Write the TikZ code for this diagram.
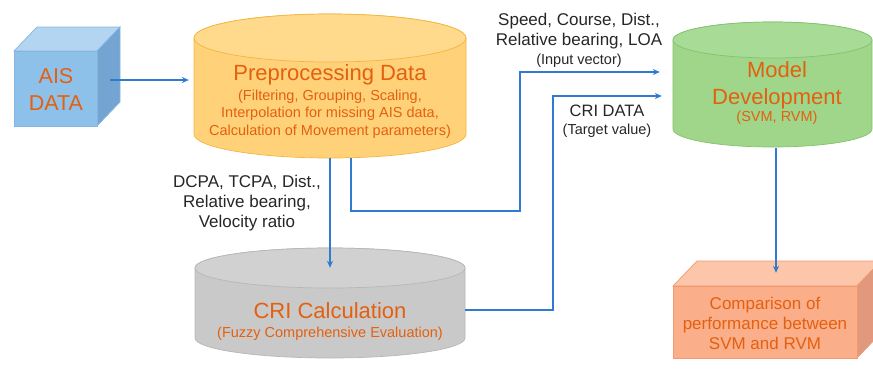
\documentclass[tikz,border=0pt]{standalone}
\usepackage{fontspec}
\setmainfont{Liberation Sans}
\usetikzlibrary{arrows.meta}

\definecolor{txtorange}{HTML}{E4600F}
\definecolor{arrowblue}{HTML}{2F7BD0}
\definecolor{cubefront}{HTML}{8EC1EA}
\definecolor{cubetop}{HTML}{B4D5F1}
\definecolor{cubeside}{HTML}{73A4D2}
\definecolor{cubeline}{HTML}{86B6E0}
\definecolor{prepbody}{HTML}{FFD27A}
\definecolor{preptop}{HTML}{FFD98C}
\definecolor{prepline}{HTML}{F2B640}
\definecolor{crigbody}{HTML}{C9C9C9}
\definecolor{crigtop}{HTML}{D1D1D1}
\definecolor{crigline}{HTML}{B7B7B7}
\definecolor{modelbody}{HTML}{9FD68A}
\definecolor{modeltop}{HTML}{A8DB95}
\definecolor{modelline}{HTML}{84C26C}
\definecolor{compfront}{HTML}{FBAE8A}
\definecolor{comptop}{HTML}{FCC6AB}
\definecolor{compside}{HTML}{E1987D}
\definecolor{compline}{HTML}{F29A6E}

\begin{document}
\begin{tikzpicture}[x=1pt,y=1pt,
  arr/.style={draw=arrowblue, line width=1.1pt, -{Stealth[length=7pt,width=6pt]}},
  area/.style={rectangle, draw=none, inner sep=0pt},
  title/.style={text=txtorange, align=center, inner sep=0pt},
  note/.style={text=black!85, align=center, inner sep=0pt},
  shapeline/.style={line width=0.7pt}]

\useasboundingbox (0,0) rectangle (873,-368);

% ---------- AIS data cube ----------
\path[fill=cubetop, draw=cubeline, shapeline] (14,-51) -- (37,-27) -- (120,-27) -- (97,-51) -- cycle;
\path[fill=cubeside, draw=cubeline, shapeline] (97,-51) -- (120,-27) -- (120,-102) -- (97,-126) -- cycle;
\path[fill=cubefront, draw=cubeline, shapeline] (14,-51) rectangle (97,-126);
\node[area, minimum width=83pt, minimum height=75pt] (ais) at (55.5,-88.5) {};
\node[title, font=\fontsize{21.5}{27}\selectfont] (aistxt) at (56,-89) {AIS\\DATA};

% ---------- Preprocessing cylinder ----------
\path[fill=prepbody, draw=prepline, shapeline] (194,-38) -- (194,-134)
  arc[start angle=180, end angle=360, x radius=136, y radius=24] -- (466,-38)
  arc[start angle=0, end angle=180, x radius=136, y radius=24] -- cycle;
\path[fill=preptop, draw=prepline, shapeline] (330,-38) ellipse[x radius=136, y radius=24];
\node[area, minimum width=272pt, minimum height=144pt] (prep) at (330,-86) {};
\node[title, font=\fontsize{22}{26}\selectfont] (preptitle) at (330,-75) {Preprocessing Data};
\node[title, font=\fontsize{14.5}{17.5}\selectfont] (prepsub) at (330,-114)
  {(Filtering, Grouping, Scaling,\\Interpolation for missing AIS data,\\Calculation of Movement parameters)};

% ---------- CRI calculation cylinder ----------
\path[fill=crigbody, draw=crigline, shapeline] (195,-268) -- (195,-338)
  arc[start angle=180, end angle=360, x radius=135, y radius=20] -- (465,-268)
  arc[start angle=0, end angle=180, x radius=135, y radius=20] -- cycle;
\path[fill=crigtop, draw=crigline, shapeline] (330,-268) ellipse[x radius=135, y radius=20];
\node[area, minimum width=270pt, minimum height=110pt] (cri) at (330,-303) {};
\node[title, font=\fontsize{22}{26}\selectfont] (crititle) at (330,-311) {CRI Calculation};
\node[title, font=\fontsize{14.5}{17}\selectfont] (crisub) at (330,-334) {(Fuzzy Comprehensive Evaluation)};

% ---------- Model development cylinder ----------
\path[fill=modelbody, draw=modelline, shapeline] (673,-40) -- (673,-129)
  arc[start angle=180, end angle=360, x radius=99.5, y radius=18] -- (872,-40)
  arc[start angle=0, end angle=180, x radius=99.5, y radius=18] -- cycle;
\path[fill=modeltop, draw=modelline, shapeline] (772.5,-40) ellipse[x radius=99.5, y radius=18];
\node[area, minimum width=199pt, minimum height=126pt] (model) at (772.5,-85) {};
\node[title, font=\fontsize{22}{27}\selectfont] (modeltxt) at (777,-85) {Model\\Development};
\node[title, font=\fontsize{14.5}{17}\selectfont] (modelsub) at (777,-118) {(SVM, RVM)};

% ---------- Comparison box ----------
\path[fill=comptop, draw=compline, shapeline] (673,-286) -- (697,-261) -- (881,-261) -- (857,-286) -- cycle;
\path[fill=compside, draw=compline, shapeline] (857,-286) -- (881,-261) -- (881,-333) -- (857,-358) -- cycle;
\path[fill=compfront, draw=compline, shapeline] (673,-286) rectangle (857,-358);
\node[area, minimum width=184pt, minimum height=72pt] (comp) at (765,-322) {};
\node[title, font=\fontsize{17}{20}\selectfont] (comptxt) at (765,-323)
  {Comparison of\\performance between\\SVM and RVM};

% ---------- Connectors ----------
\draw[arr] ([xshift=13pt,yshift=8.5pt]ais.east) -- ([xshift=-5pt,yshift=6pt]prep.west);
\draw[arr] (prep.south) -- ([yshift=-20pt]cri.north);
\draw[arr] ([xshift=21pt]prep.south) |- (520,-211) |- ([xshift=-13pt,yshift=13pt]model.west);
\draw[arr] ([yshift=-7pt]cri.east) -| (553,-96) -- ([xshift=-11pt,yshift=-11pt]model.west);
\draw[arr] ([xshift=3.5pt]model.south) -- ([xshift=11pt,yshift=13pt]comp.north);

% ---------- Connector labels ----------
\node[note, font=\fontsize{17}{20}\selectfont] (lblin) at (579,-40)
  {Speed, Course, Dist.,\\Relative bearing, LOA\\[-1pt]{\fontsize{14.5}{17}\selectfont (Input vector)}};
\node[note, font=\fontsize{16.5}{18}\selectfont] (lbltarget) at (607,-121)
  {CRI DATA\\{\fontsize{14.5}{17}\selectfont (Target value)}};
\node[note, font=\fontsize{17}{20}\selectfont] (lblcri) at (247,-203)
  {DCPA, TCPA, Dist.,\\Relative bearing,\\Velocity ratio};

\end{tikzpicture}
\end{document}
